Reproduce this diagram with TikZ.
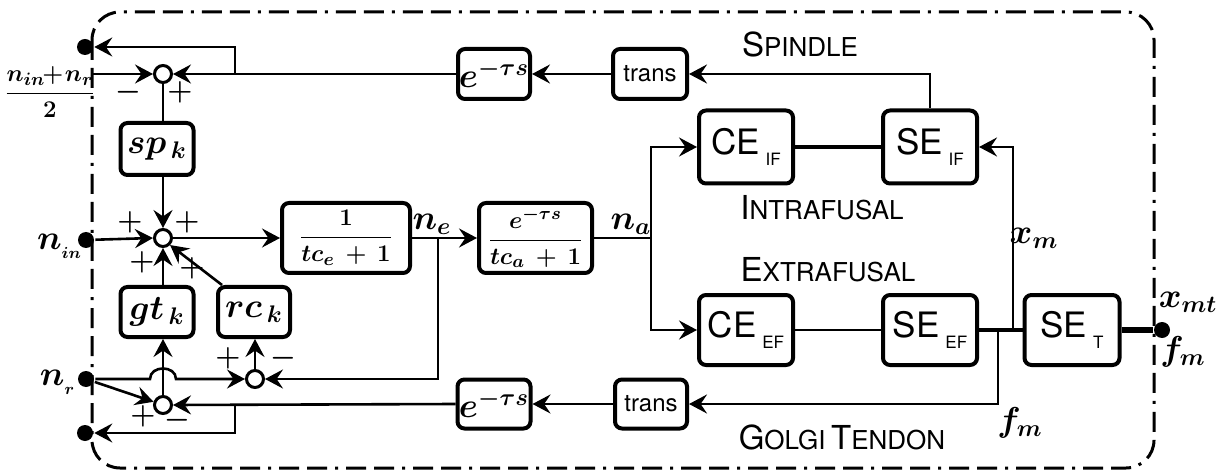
\documentclass[tikz,border=0pt]{standalone}
\usepackage{amsmath}
\usepackage{fontspec}
\setsansfont{TeX Gyre Heros}
\usetikzlibrary{arrows.meta,calc}
\newcommand{\subsf}[2]{#1\,\raisebox{-5.5pt}{\fontsize{8.5}{9}\selectfont #2}}
\newcommand{\fsc}[2]{{\fontsize{16.5}{18}\selectfont #1}{\fontsize{13}{15}\selectfont #2}}
\begin{document}
\begin{tikzpicture}[x=0.5pt,y=-0.5pt,line width=1.3pt,
  arr/.style={-{Stealth[length=9pt,width=9.5pt,inset=3.2pt]}},
  blk/.style={draw,line width=2pt,rounded corners=3.5pt,inner sep=0pt},
  sumc/.style={draw,circle,line width=1.5pt,minimum size=8.5pt,inner sep=0pt,fill=white},
  dotn/.style={circle,fill=black,minimum size=8pt,inner sep=0pt},
  thk/.style={line width=2.2pt},
  frm/.style={line width=1.5pt,dash pattern=on 10pt off 4pt on 10pt off 4pt on 1.5pt off 4pt,rounded corners=14pt},
  mth/.style={font=\fontsize{17}{20}\selectfont\boldmath},
  fracf/.style={font=\fontsize{12.5}{14}\selectfont\boldmath},
  sgn/.style={font=\fontsize{15}{17}\selectfont\boldmath,inner sep=0pt},
  sft/.style={font=\sffamily\fontsize{17.5}{20}\selectfont},
  trf/.style={font=\sffamily\fontsize{12}{14}\selectfont},
  captxt/.style={font=\sffamily,inner sep=0pt}]
\useasboundingbox (0,0) rectangle (1218,475);
% frame
\draw[frm] (92,12) rectangle (1154,468);
% terminals
\node[dotn] (dTop) at (85,47) {};
\node[dotn] (dIn) at (86,240) {};
\node[dotn] (dR) at (86,379) {};
\node[dotn] (dBot) at (85,433) {};
\node[dotn] (dOut) at (1162,330) {};
% summing junctions
\node[sumc] (s1) at (163,74) {};
\node[sumc] (s2) at (163,238) {};
\node[sumc] (s3) at (255,379) {};
\node[sumc] (s4) at (163,405) {};
% blocks
\node[blk,mth,minimum width=36.5pt,minimum height=26pt] (sp) at (157,149) {$sp_{\,k}$};
\node[blk,mth,minimum width=36.5pt,minimum height=25pt] (gt) at (157,312) {$gt_{\,k}$};
\node[blk,mth,minimum width=36pt,minimum height=25pt] (rc) at (254,312) {$rc_{\,k}$};
\node[blk,fracf,minimum width=64pt,minimum height=35pt] (f1) at (346,238) {$\dfrac{1}{tc_e\,+\,1}$};
\node[blk,fracf,minimum width=56.5pt,minimum height=35pt] (f2) at (535.5,238) {$\dfrac{e^{-\tau s}}{tc_a\,+\,1}$};
\node[blk,mth,minimum width=36pt,minimum height=25pt] (e1) at (494,74) {$e^{-\tau s}$};
\node[blk,trf,minimum width=37pt,minimum height=25pt] (t1) at (650,74) {trans};
\node[blk,mth,minimum width=36.5pt,minimum height=24.5pt] (e2) at (494,404) {$e^{-\tau s}$};
\node[blk,trf,minimum width=36pt,minimum height=24.5pt] (t2) at (651,404) {trans};
\node[blk,sft,minimum width=47pt,minimum height=36.5pt] (ceif) at (746,147) {\subsf{CE}{IF}};
\node[blk,sft,minimum width=47pt,minimum height=36.5pt] (seif) at (930,147) {\subsf{SE}{IF}};
\node[blk,sft,minimum width=47pt,minimum height=35pt] (ceef) at (746,330) {\subsf{CE}{EF}};
\node[blk,sft,minimum width=47pt,minimum height=35pt] (seef) at (930,330) {\subsf{SE}{EF}};
\node[blk,sft,minimum width=47.5pt,minimum height=35pt] (set) at (1072,330) {\subsf{SE}{T}};
% coordinates
\coordinate (in1) at (92,74);
\coordinate (b1) at (235,74);
\coordinate (b2) at (235,404);
\coordinate (ne) at (438,238);
\coordinate (na) at (651,238);
\coordinate (xm) at (1013,330);
\coordinate (fm) at (998,330);
% spindle loop
\draw[arr] (seif.north) |- (t1.east);
\draw[arr] (t1) -- (e1);
\draw[arr] (e1.west) -- (s1.east);
\draw[arr] (b1) |- (dTop);
\draw[arr] (in1) -- (s1.west);
\draw (s1.south) -- (s1.south |- sp.north);
\draw[arr] (s1.south |- sp.south) -- (s2.north);
% main junction
\draw[arr] (dIn) -- (s2.west);
\draw[arr] (s2.east) -- (f1.west);
\draw[arr] (s2.south |- gt.north) -- (s2.south);
\draw[arr] ($(rc.north west)+(6,0)$) -- (s2.south east);
\draw[arr] (f1.east) -- (f2.west);
\draw[arr] (ne) |- (s3.east);
\draw[arr] (dR) -- (150,379) .. controls (150,365) and (176,365) .. (176,379) -- (s3.west);
\draw[arr] (s3.north) -- (s3.north |- rc.south);
% golgi loop
\draw[arr] (dR) -- (s4);
\draw[arr] (s4.north) -- (s4.north |- gt.south);
\draw[arr] (fm) |- (t2.east);
\draw[arr] (t2) -- (e2);
\draw[arr] (e2.west) -- (s4.east);
\draw[arr] (b2) |- (dBot);
% muscle
\draw (f2.east) -- (na);
\draw[arr] (na) |- (ceif.west);
\draw[arr] (na) |- (ceef.west);
\draw[thk] (ceif) -- (seif);
\draw (ceef) -- (seef);
\draw[thk] (seef) -- (set);
\draw[line width=2.6pt] (set) -- (dOut);
\draw[arr] (xm) |- (seif.east);
% signs
\node[sgn] (m1) at (128,92) {$-$};
\node[sgn] (p1) at (180,92) {$+$};
\node[sgn] (p2) at (130,222) {$+$};
\node[sgn] (p3) at (187,222) {$+$};
\node[sgn] (p4) at (142,262) {$+$};
\node[sgn] (p5) at (192,268) {$+$};
\node[sgn] (p6) at (228,358) {$+$};
\node[sgn] (m2) at (283,358) {$-$};
\node[sgn] (p7) at (143,416) {$+$};
\node[sgn] (m3) at (177,420) {$-$};
% labels
\node[font=\fontsize{12.5}{14}\selectfont\boldmath,inner sep=0pt] (lfrac) at (50,92) {$\dfrac{n_{in}\!\!+\!n_r}{2}$};
\node[mth,inner sep=0pt] (lin) at (60,246) {$n_{_{in}}$};
\node[mth,inner sep=0pt] (lr) at (58,382) {$n_{_r}$};
\node[mth,inner sep=0pt] (lne) at (432,224) {$n_e$};
\node[mth,inner sep=0pt] (lna) at (631,224) {$n_a$};
\node[mth,inner sep=0pt] (lxm) at (1034,238) {$x_m$};
\node[mth,inner sep=0pt] (lfm) at (1020,423) {$f_m$};
\node[mth,inner sep=0pt] (lxmt) at (1188,302) {$x_{mt}$};
\node[mth,inner sep=0pt] (lfm2) at (1183,352) {$f_m$};
\node[captxt] (cs) at (800,44) {\fsc{S}{PINDLE}};
\node[captxt] (ci) at (822,208) {\fsc{I}{NTRAFUSAL}};
\node[captxt] (ce) at (828,270) {\fsc{E}{XTRAFUSAL}};
\node[captxt] (cg) at (842,437) {\fsc{G}{OLGI} \fsc{T}{ENDON}};
\end{tikzpicture}
\end{document}
